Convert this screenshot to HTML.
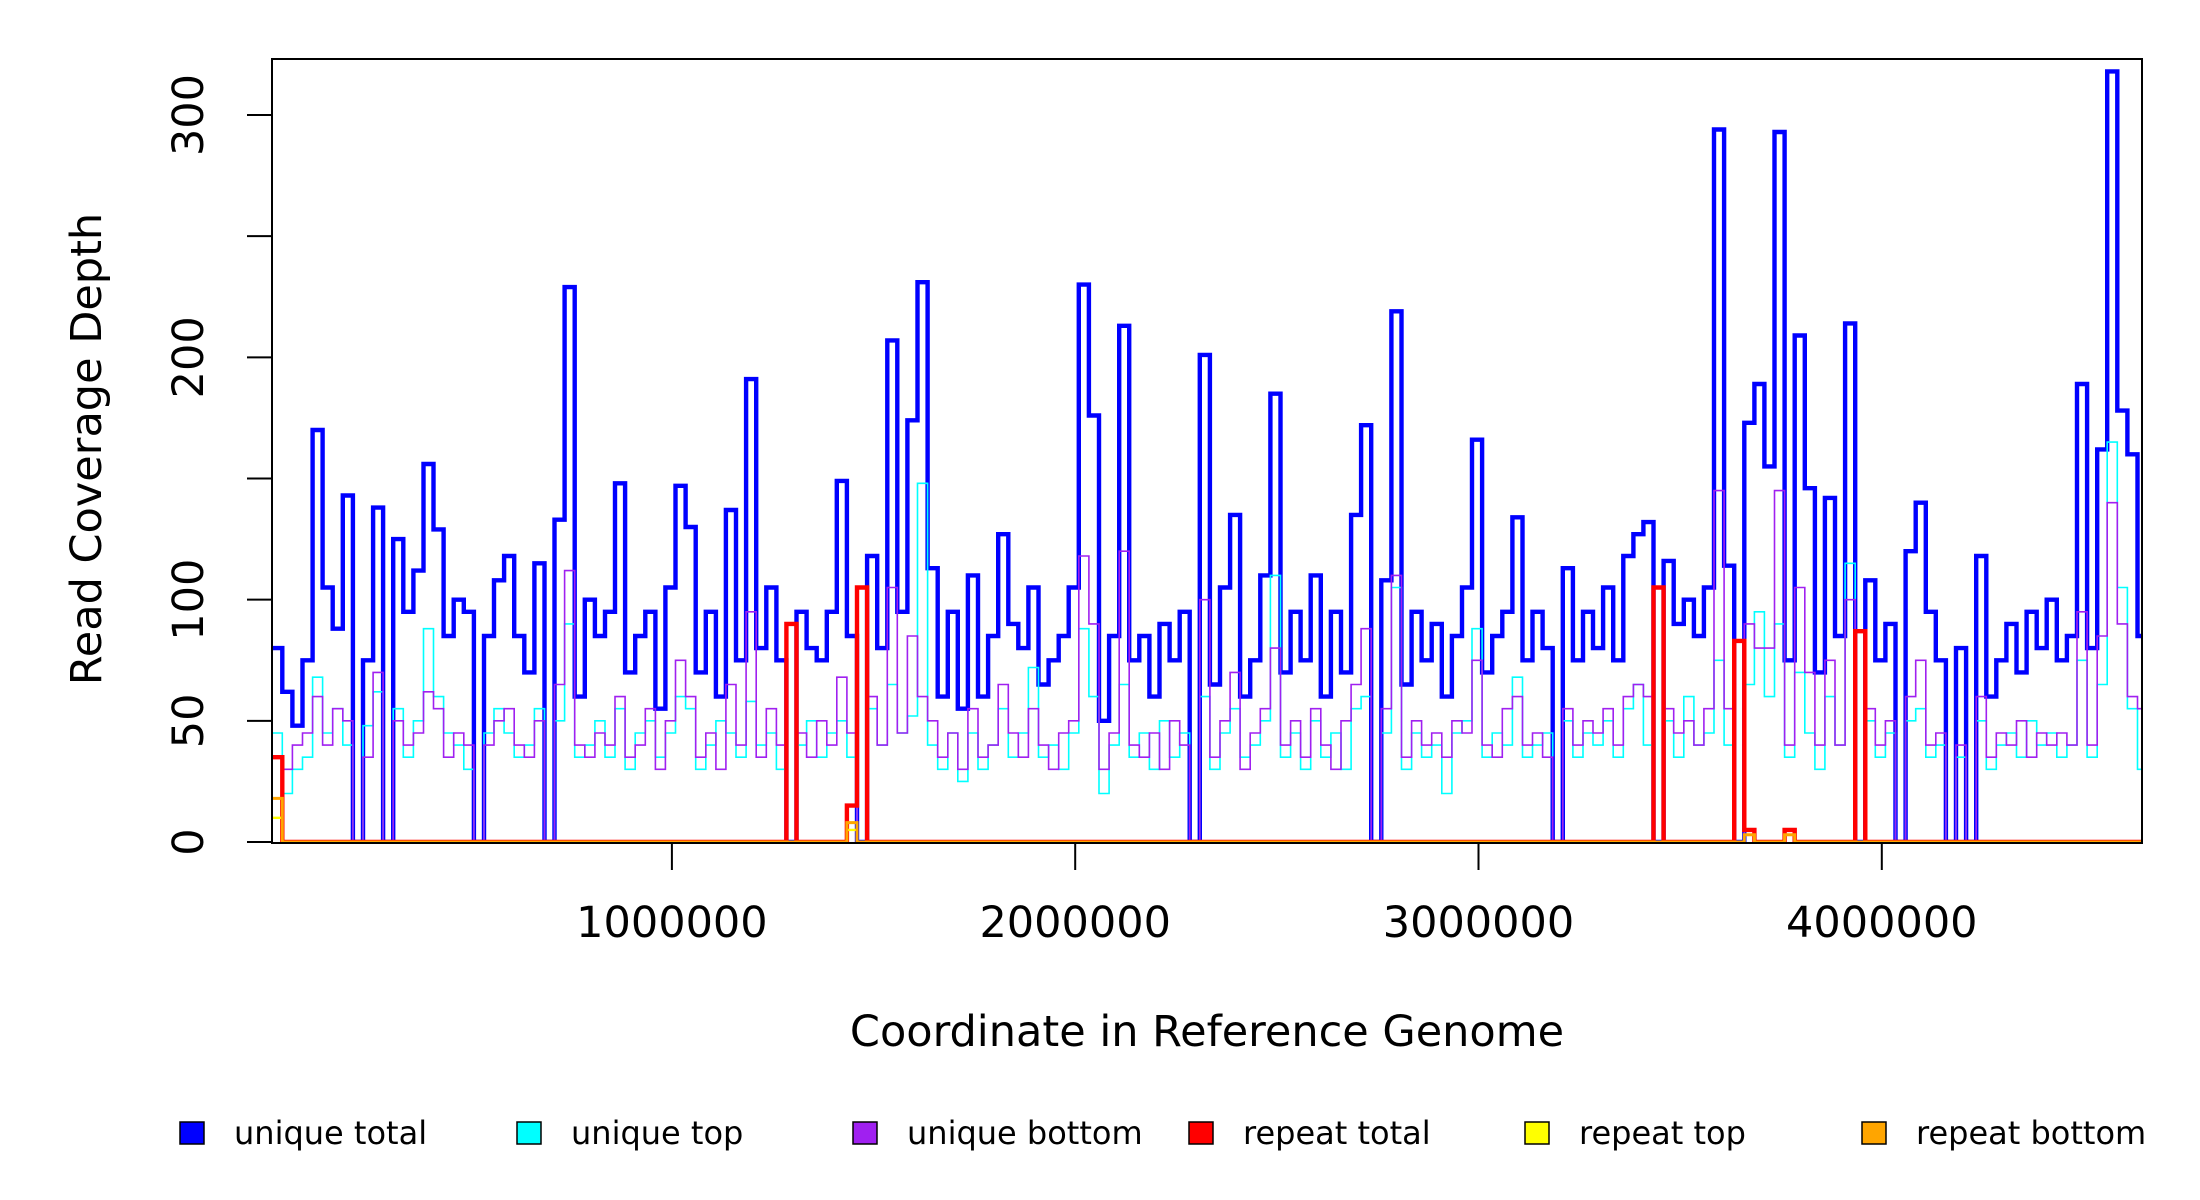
<!DOCTYPE html>
<html><head><meta charset="utf-8"><style>
html,body{margin:0;padding:0;background:#fff;}
svg{display:block;font-family:"DejaVu Sans","Liberation Sans",sans-serif;}
</style></head><body>
<svg id="chart" width="2200" height="1200" viewBox="0 0 2200 1200" xmlns="http://www.w3.org/2000/svg">
<defs><clipPath id="clip"><rect x="272" y="59" width="1870" height="784"/></clipPath></defs>
<g id="series" clip-path="url(#clip)"></g>
<rect x="272" y="59" width="1870" height="784" fill="none" stroke="#000" stroke-width="2"/>
<g id="yaxis"></g>
<g id="xaxis"></g>
<text x="87" y="449" transform="rotate(-90 87 449)" text-anchor="middle" dominant-baseline="central" font-size="43">Read Coverage Depth</text>
<text x="1207" y="1032" text-anchor="middle" dominant-baseline="central" font-size="43">Coordinate in Reference Genome</text>
<g id="legend"></g>
</svg>
<script>
const binStart = 9000;
const binWidth = 25000;
const yTicks = [0,50,100,150,200,250,300];
const yTickLabels = ["0","50","100","","200","","300"];
const xTicks = [1000000,2000000,3000000,4000000];
const xTickLabels = ["1000000","2000000","3000000","4000000"];
const seriesNames = ["unique total","unique top","unique bottom","repeat total","repeat top","repeat bottom"];
const seriesColors = ["#0000ff","#00ffff","#a020f0","#ff0000","#ffff00","#ffa500"];
const uniqueTotal = [80,62,48,75,170,105,88,143,0,75,138,0,125,95,112,156,129,85,100,95,0,85,108,118,85,70,115,0,133,229,60,100,85,95,148,70,85,95,55,105,147,130,70,95,60,137,75,191,80,105,75,0,95,80,75,95,149,85,0,118,80,207,95,174,231,113,60,95,55,110,60,85,127,90,80,105,65,75,85,105,230,176,50,85,213,75,85,60,90,75,95,0,201,65,105,135,60,75,110,185,70,95,75,110,60,95,70,135,172,0,108,219,65,95,75,90,60,85,105,166,70,85,95,134,75,95,80,0,113,75,95,80,105,75,118,127,132,0,116,90,100,85,105,294,114,0,173,189,155,293,75,209,146,70,142,85,214,0,108,75,90,0,120,140,95,75,0,80,0,118,60,75,90,70,95,80,100,75,85,189,80,162,318,178,160,85];
const uniqueTop = [45,20,30,35,68,45,55,40,0,48,62,0,55,35,50,88,60,45,40,30,0,45,55,45,35,40,55,0,50,90,35,40,50,35,55,30,45,50,35,45,60,55,30,40,50,45,35,58,40,45,30,0,40,50,35,45,50,35,0,55,40,65,45,52,148,40,30,45,25,45,30,40,55,35,45,72,35,40,30,45,88,60,20,40,65,35,45,30,50,35,45,0,60,30,45,55,35,40,50,110,35,45,30,50,35,45,30,55,60,0,45,105,30,45,35,40,20,45,50,88,35,45,40,68,35,40,45,0,50,35,45,40,50,35,55,65,40,0,50,35,60,40,45,75,40,0,65,95,60,90,35,70,45,30,60,40,115,0,50,35,45,0,50,55,35,40,0,35,0,50,30,40,45,35,50,40,45,35,40,75,35,65,165,105,55,30];
const uniqueBottom = [35,30,40,45,60,40,55,50,0,35,70,0,50,40,45,62,55,35,45,40,0,40,50,55,40,35,50,0,65,112,40,35,45,40,60,35,40,55,30,50,75,60,35,45,30,65,40,95,35,55,40,0,45,35,50,40,68,45,0,60,40,105,45,85,60,50,35,45,30,55,35,40,65,45,35,55,40,30,45,50,118,90,30,45,120,40,35,45,30,50,40,0,100,35,50,70,30,45,55,80,40,50,35,55,40,30,50,65,88,0,55,110,35,50,40,45,35,50,45,75,40,35,55,60,40,45,35,0,55,40,50,45,55,40,60,65,60,0,55,45,50,40,55,145,55,0,90,80,80,145,40,105,70,40,75,40,100,0,55,40,50,0,60,75,40,45,0,40,0,60,35,45,40,50,35,45,40,45,40,95,40,85,140,90,60,55];
const repeatTotal = new Array(186).fill(0);
const repeatTop = new Array(186).fill(0);
const repeatBottom = new Array(186).fill(0);
const repeatTotalBins = [0,51,57,58,137,145,146,150,157];
const repeatTotalVals = [35,90,15,105,105,83,5,5,87];
const repeatTopBins = [0,57,146,150];
const repeatTopVals = [10,5,3,3];
const repeatBottomBins = [0,57,146,150];
const repeatBottomVals = [18,8,3,3];
repeatTotalBins.forEach((b,i)=>{repeatTotal[b]=repeatTotalVals[i];});
repeatTopBins.forEach((b,i)=>{repeatTop[b]=repeatTopVals[i];});
repeatBottomBins.forEach((b,i)=>{repeatBottom[b]=repeatBottomVals[i];});

const NS="http://www.w3.org/2000/svg";
function xScale(g){return 268.6 + g*403.3/1e6;}
function yScale(v){return 842 - v*(727/300);}
function mk(tag,attrs,parent){const e=document.createElementNS(NS,tag);for(const k in attrs)e.setAttribute(k,attrs[k]);parent.appendChild(e);return e;}

const seriesG=document.getElementById('series');
const allSeries=[uniqueTotal,uniqueTop,uniqueBottom,repeatTotal,repeatTop,repeatBottom];
const widths=[4.4,1.6,1.6,4.4,2.4,3];
const seriesKeys=["unique-total-line","unique-top-line","unique-bottom-line","repeat-total-line","repeat-top-line","repeat-bottom-line"];
allSeries.forEach((arr,s)=>{
  let d="";
  arr.forEach((v,i)=>{
    const x0=xScale(binStart+i*binWidth), x1=xScale(binStart+(i+1)*binWidth), y=yScale(v);
    d += (i===0?"M":"L")+x0.toFixed(1)+","+y.toFixed(1)+"H"+x1.toFixed(1);
  });
  const p=mk('path',{d:d,fill:'none',stroke:seriesColors[s],'stroke-width':widths[s],'stroke-linejoin':'miter'},seriesG);
  
  
});

const yg=document.getElementById('yaxis');
yTicks.forEach((t,i)=>{
  const y=yScale(t);
  const l=mk('line',{x1:247,x2:272,y1:y,y2:y,stroke:'#000','stroke-width':2},yg);
  
  
  if(yTickLabels[i]){
    const tx=mk('text',{x:189,y:y,transform:'rotate(-90 189 '+y+')','text-anchor':'middle','dominant-baseline':'central','font-size':43},yg);
    tx.textContent=yTickLabels[i];
    
    
  }
});
const xg=document.getElementById('xaxis');
xTicks.forEach((t,i)=>{
  const x=xScale(t);
  const l=mk('line',{x1:x,x2:x,y1:843,y2:870,stroke:'#000','stroke-width':2},xg);
  
  
  const tx=mk('text',{x:x,y:923,'text-anchor':'middle','dominant-baseline':'central','font-size':43},xg);
  tx.textContent=xTickLabels[i];
  
  
});
const lg=document.getElementById('legend');
const legendX=[192,529,865,1201,1537,1874];
seriesNames.forEach((n,i)=>{
  const g=mk('g',{},lg);
  
  
  mk('rect',{x:legendX[i]-12,y:1122,width:24,height:22,fill:seriesColors[i],stroke:'#000','stroke-width':1.5},g);
  const tx=mk('text',{x:legendX[i]+42,y:1133,'dominant-baseline':'central','font-size':32},g);
  tx.textContent=n;
});
</script>
</body></html>
